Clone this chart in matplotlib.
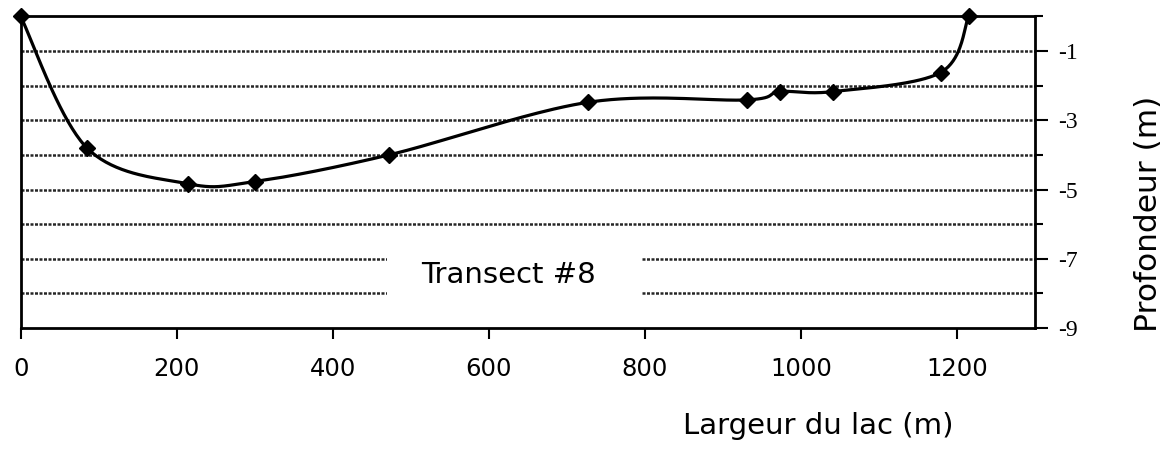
import numpy as np
import matplotlib
matplotlib.use("Agg")
import matplotlib.pyplot as plt
from matplotlib.patches import Rectangle

# depth profile along transect 8
largeur = np.array([0, 85, 214, 300, 472, 727, 931, 973, 1041, 1179, 1215])
profondeur = np.array([0, -3.8, -4.83, -4.77, -4.0, -2.48, -2.41, -2.17, -2.17, -1.62, 0])

xticks = [0, 200, 400, 600, 800, 1000, 1200]
yticks = [-1, -3, -5, -7, -9]
yticklabels = ["-1", "-3", "-5", "-7", "-9"]
yminor = [0, -2, -4, -6, -8]
grid_levels = [-1, -2, -3, -4, -5, -6, -7, -8]


def smooth_curve(x, y, sx, sy, n=40):
    # Bezier smoothing with neighbour-based control points (like a spreadsheet "smoothed line")
    P = np.column_stack([x * sx, y * sy])
    out = []
    for i in range(len(P) - 1):
        p0 = P[i - 1] if i > 0 else P[i]
        p1 = P[i]
        p2 = P[i + 1]
        p3 = P[i + 2] if i + 2 < len(P) else P[i + 1]
        c1 = p1 + (p2 - p0) / 6
        c2 = p2 - (p3 - p1) / 6
        t = np.linspace(0, 1, n)[:, None]
        seg = ((1 - t) ** 3) * p1 + 3 * ((1 - t) ** 2) * t * c1 + 3 * (1 - t) * t ** 2 * c2 + t ** 3 * p2
        out.append(seg if i == 0 else seg[1:])
    out = np.vstack(out)
    return out[:, 0] / sx, out[:, 1] / sy


fig = plt.figure(figsize=(11.72, 4.49), dpi=100)
ax = fig.add_axes([0.01766, 0.2695, 0.8654, 0.6938])
ax.set_xlim(0, 1300)
ax.set_ylim(-9, 0)

for lev in grid_levels:
    ax.axhline(lev, color="0.15", lw=1.8, ls=(0, (1.2, 0.6)), zorder=1)

# white box behind the title text
ax.add_patch(Rectangle((0.361, 0.074), 0.2515, 0.192, transform=ax.transAxes,
                       facecolor="white", edgecolor="none", zorder=2))
ax.text(625, -7.48, "Transect #8", fontsize=21, ha="center", va="center", zorder=3)

# pixels per unit, so the smoothing is done in screen proportions
sx = 1014.3 / 1300
sy = 311.5 / 9
cx, cy = smooth_curve(largeur, profondeur, sx, sy)
ax.plot(cx, cy, color="black", lw=2.3, zorder=4, clip_on=False)
ax.plot(largeur, profondeur, ls="none", marker="D", ms=8, color="black", zorder=5, clip_on=False)

for side in ["left", "right", "top", "bottom"]:
    ax.spines[side].set_linewidth(2)

ax.set_xticks(xticks)
ax.set_xticklabels([str(v) for v in xticks])
ax.tick_params(axis="x", direction="out", length=8, width=1.5, pad=13, labelsize=17.5)

ax.yaxis.tick_right()
ax.set_yticks(yticks)
ax.set_yticklabels(yticklabels, fontfamily="Liberation Serif", fontsize=17)
ax.set_yticks(yminor, minor=True)
ax.tick_params(axis="y", which="major", direction="out", length=9.5, width=1.5, pad=7)
ax.tick_params(axis="y", which="minor", direction="out", length=6, width=1.5)
ax.tick_params(left=False)

ax.set_xlabel("Largeur du lac (m)", fontsize=21, va="center")
ax.xaxis.set_label_coords(0.786, -0.315)
ax.yaxis.set_label_position("right")
ax.set_ylabel("Profondeur (m)", fontsize=22.5, rotation=90, va="center", ha="center")
ax.yaxis.set_label_coords(1.112, 0.3676)

fig.savefig("out.png", dpi=100)
